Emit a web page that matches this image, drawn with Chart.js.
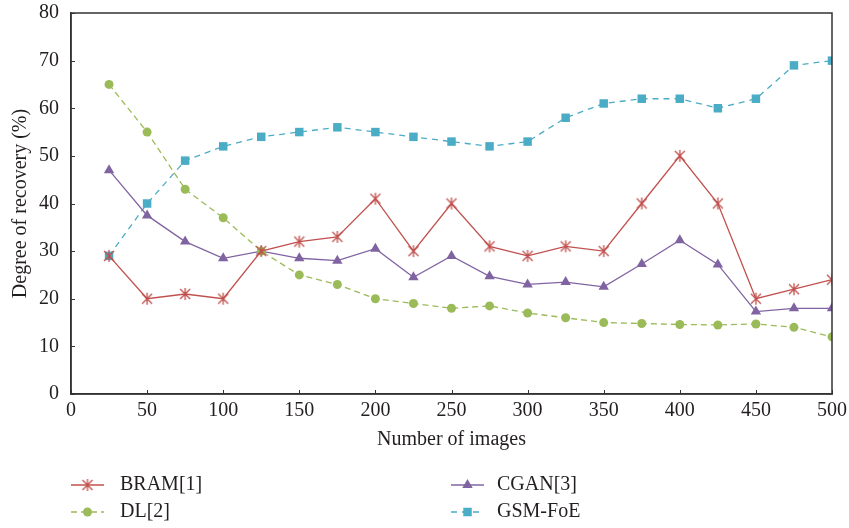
<!DOCTYPE html>
<html>
<head>
<meta charset="utf-8">
<script src="https://cdn.jsdelivr.net/npm/chart.js@4"></script>
<style>
  html, body { margin: 0; padding: 0; background: #fff; }
  #wrap { width: 849px; height: 528px; position: relative; }
</style>
</head>
<body>
<div id="wrap"><canvas id="chart" width="849" height="528"></canvas></div>
<script>
// number of images on x axis
const images = [25, 50, 75, 100, 125, 150, 175, 200, 225, 250, 275, 300, 325, 350, 375, 400, 425, 450, 475, 500];
const bram = [29, 20, 21, 20, 30, 32, 33, 41, 30, 40, 31, 29, 31, 30, 40, 50, 40, 20, 22, 24];
const dl = [65, 55, 43, 37, 30, 25, 23, 20, 19, 18, 18.5, 17, 16, 15, 14.8, 14.6, 14.5, 14.7, 14, 12];
const cgan = [47, 37.5, 32, 28.5, 30, 28.5, 28, 30.5, 24.5, 29, 24.7, 23, 23.5, 22.5, 27.3, 32.3, 27.2, 17.3, 18, 18];
const gsm = [29, 40, 49, 52, 54, 55, 56, 55, 54, 53, 52, 53, 58, 61, 62, 62, 60, 62, 69, 70];
const seriesNames = ["BRAM[1]", "DL[2]", "CGAN[3]", "GSM-FoE"];
const colors = ["#c0504d", "#9bbb59", "#8064a2", "#4bacc6"];

const FONT = "'Liberation Serif', 'DejaVu Serif', serif";
const FS = 20;
const TEXT = "#231f20";

// asterisk marker (X plus vertical stroke) like the original
function asterisk(color) {
    const c = document.createElement("canvas");
    c.width = 14; c.height = 14;
    const g = c.getContext("2d");
    g.strokeStyle = color; g.lineWidth = 1.3;
    g.beginPath();
    g.moveTo(2, 2); g.lineTo(12, 12);
    g.moveTo(12, 2); g.lineTo(2, 12);
    g.moveTo(7, 1); g.lineTo(7, 13);
    g.stroke();
    return c;
}

const pts = vals => vals.map((v, i) => ({ x: images[i], y: v }));

const datasets = [
    { label: seriesNames[0], data: pts(bram), borderColor: colors[0], backgroundColor: colors[0], borderWidth: 1.3,
      pointStyle: asterisk(colors[0]), pointRadius: 7 },
    { label: seriesNames[1], data: pts(dl), borderColor: colors[1], backgroundColor: colors[1], borderWidth: 1.3,
      borderDash: [6, 4], pointStyle: "circle", pointRadius: 4.5, pointBorderWidth: 0 },
    { label: seriesNames[2], data: pts(cgan), borderColor: colors[2], backgroundColor: colors[2], borderWidth: 1.3,
      pointStyle: "triangle", pointRadius: 6, pointBorderWidth: 0 },
    { label: seriesNames[3], data: pts(gsm), borderColor: colors[3], backgroundColor: colors[3], borderWidth: 1.3,
      borderDash: [6, 5], pointStyle: "rect", pointRadius: 6, pointBorderWidth: 0 }
];

// frame on top/right and inward tick marks
const framePlugin = {
    id: "frame",
    afterDatasetsDraw(chart) {
        const { ctx, chartArea: a, scales } = chart;
        ctx.save();
        ctx.strokeStyle = "#333";
        ctx.lineWidth = 1.5;
        ctx.strokeRect(a.left, a.top, a.right - a.left, a.bottom - a.top);
        ctx.lineWidth = 1;
        ctx.beginPath();
        scales.y.ticks.forEach(t => {
            const y = Math.round(scales.y.getPixelForValue(t.value)) + 0.5;
            ctx.moveTo(a.left, y); ctx.lineTo(a.left + 4, y);
        });
        scales.x.ticks.forEach(t => {
            const x = Math.round(scales.x.getPixelForValue(t.value)) + 0.5;
            ctx.moveTo(x, a.bottom); ctx.lineTo(x, a.bottom - 4);
        });
        ctx.stroke();
        ctx.restore();
    }
};

// two-column legend under the axis title
const legendPlugin = {
    id: "gridLegend",
    afterDraw(chart) {
        const { ctx } = chart;
        const slots = [[71, 485], [71, 512], [451, 485], [451, 512]];
        ctx.save();
        chart.data.datasets.forEach((ds, i) => {
            const [x, y] = slots[i];
            ctx.strokeStyle = ds.borderColor;
            ctx.lineWidth = 1.3;
            ctx.setLineDash(ds.borderDash || []);
            ctx.beginPath();
            ctx.moveTo(x, y); ctx.lineTo(x + 33, y);
            ctx.stroke();
            ctx.setLineDash([]);
            ctx.fillStyle = ds.backgroundColor;
            Chart.helpers.drawPoint(ctx, { pointStyle: ds.pointStyle, radius: ds.pointRadius, borderWidth: 0, rotation: 0 }, x + 16.5, y);
            ctx.fillStyle = TEXT;
            ctx.font = FS + "px " + FONT;
            ctx.textBaseline = "middle";
            ctx.fillText(ds.label, x + (i < 2 ? 49 : 46), y);
        });
        ctx.restore();
    }
};

new Chart(document.getElementById("chart"), {
    type: "line",
    data: { datasets },
    options: {
        responsive: false,
        animation: false,
        layout: { padding: { top: 13, right: 17, left: 0, bottom: 70 } },
        plugins: { legend: { display: false }, tooltip: { enabled: false } },
        scales: {
            x: {
                type: "linear", min: 0, max: 500,
                afterFit: s => { s.height = 64; s.paddingLeft = 0; s.paddingRight = 0; },
                ticks: { stepSize: 50, padding: 5, color: TEXT, font: { family: FONT, size: FS } },
                grid: { display: false, drawTicks: false },
                border: { display: true, color: "#333", width: 1.5 },
                title: { display: true, text: "Number of images", color: TEXT, font: { family: FONT, size: FS }, padding: { top: 0, bottom: 6 } }
            },
            y: {
                min: 0, max: 80,
                afterFit: s => { s.width = 71; s.paddingTop = 0; s.paddingBottom = 0; },
                ticks: { stepSize: 10, padding: 12, color: TEXT, font: { family: FONT, size: FS } },
                grid: { display: false, drawTicks: false },
                border: { display: true, color: "#333", width: 1.5 },
                title: { display: true, text: "Degree of recovery (%)", color: TEXT, font: { family: FONT, size: FS }, padding: { top: 9, bottom: 0 } }
            }
        }
    },
    plugins: [framePlugin, legendPlugin]
});
</script>
</body>
</html>
